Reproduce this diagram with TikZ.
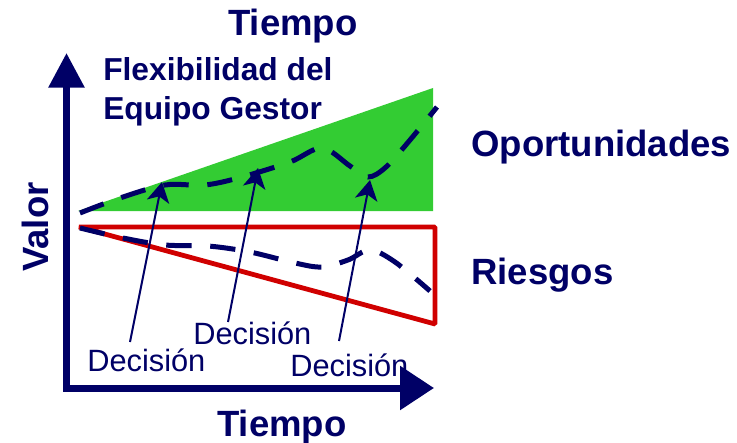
\documentclass[tikz,border=0pt]{standalone}
\usepackage{fontspec}
\setmainfont{Liberation Sans}
\usetikzlibrary{arrows.meta}
\definecolor{navy}{HTML}{000066}
\definecolor{grn}{HTML}{33CC33}
\definecolor{rd}{HTML}{D00000}
\begin{document}
\begin{tikzpicture}[x=0.75pt,y=-0.75pt,
  heading/.style={text=navy,font=\bfseries\fontsize{27.4pt}{32pt}\selectfont,inner sep=0pt,anchor=base west},
  sub/.style={text=navy,font=\bfseries\fontsize{23.8pt}{29.25pt}\selectfont,inner sep=0pt,anchor=base west,align=left},
  declabel/.style={text=navy,font=\fontsize{23.1pt}{28pt}\selectfont,inner sep=0pt,anchor=base west},
  axisline/.style={draw=navy,line width=5.25pt,line join=miter},
  dashcurve/.style={draw=navy,line width=3.75pt,dash pattern=on 19pt off 14pt},
  decarrow/.style={draw=navy,line width=1.5pt,-{Stealth[length=15pt,width=17pt,inset=4pt]}}]
\useasboundingbox (0,0) rectangle (737,442);
% green opportunities region
\fill[grn] (78,211) -- (433,88) -- (433,211) -- cycle;
% red risk region
\draw[rd,line width=3.6pt,line join=bevel] (79,227) -- (435,227) -- (435,324) -- cycle;
% axes
\coordinate (ytip) at (66.5,53);
\coordinate (corner) at (66.5,388);
\coordinate (xtip) at (434,388);
\draw[axisline,{Triangle[length=26pt,width=26pt]}-{Triangle[length=25.5pt,width=32pt]}] (ytip) -- (corner) -- (xtip);
% dashed value curves
\draw[dashcurve] plot[smooth,tension=0.55] coordinates {(80,213) (120,198) (165,185) (205,185) (242,177) (290,162) (322,148) (350,166) (368,177) (386,167) (410,140) (437,107)};
\draw[dashcurve] plot[smooth,tension=0.55] coordinates {(80,228) (123,238) (165,245) (208,246) (250,252) (295,263) (322,267) (348,260) (370,250) (395,262) (430,291)};
% labels
\node[heading] (t1) at (228,36) {Tiempo};
\node[sub] (flex) at (103,119.7) {Flexibilidad del\\Equipo Gestor};
\node[heading] (op) at (471,156) {Oportunidades};
\node[heading] (ri) at (471,284) {Riesgos};
\node[heading] (t2) at (217,436) {Tiempo};
\node[heading,rotate=90] (val) at (48,272) {Valor};
\node[declabel] (d1) at (87,371) {Decisión};
\node[declabel] (d2) at (193,344) {Decisión};
\node[declabel] (d3) at (290,376) {Decisión};
% decision arrows
\coordinate (s1) at (130,342);
\coordinate (e1) at (162,182);
\coordinate (s2) at (228,322);
\coordinate (e2) at (258,168);
\coordinate (s3) at (339,341);
\coordinate (e3) at (370,180);
\draw[decarrow] (s1) -- (e1);
\draw[decarrow] (s2) -- (e2);
\draw[decarrow] (s3) -- (e3);
\end{tikzpicture}
\end{document}
